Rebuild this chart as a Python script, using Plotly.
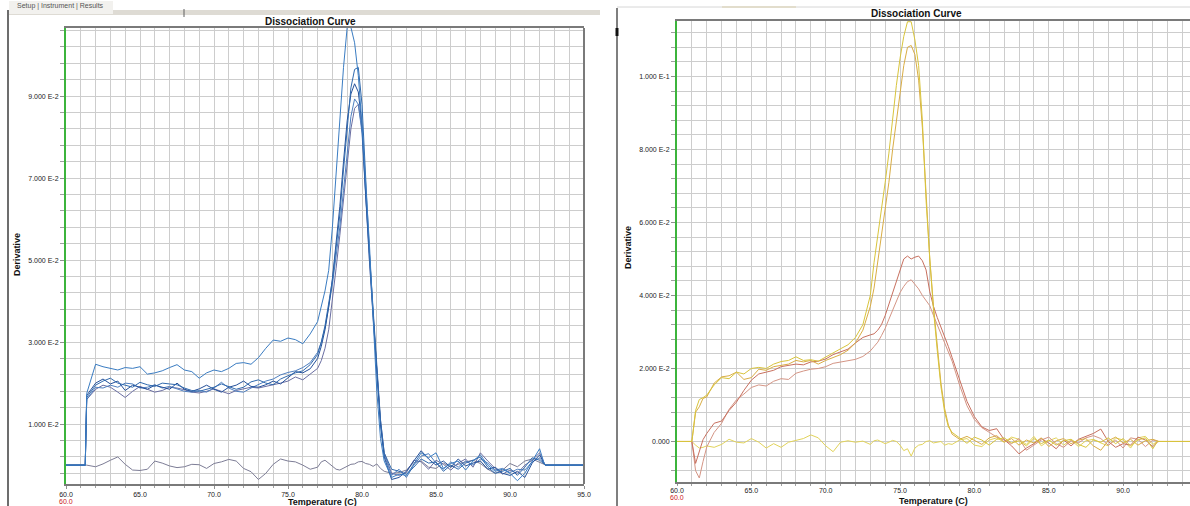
import plotly.graph_objects as go

W, H = 1190, 506

# ---------------- LEFT PANEL DATA ----------------
T_L = [60.0, 61.3, 61.4,
       62.0, 62.5, 63.0, 63.5, 64.0, 64.5, 65.0, 65.5, 66.0, 66.5, 67.0,
       67.5, 68.0, 68.5, 69.0, 69.5, 70.0, 70.5, 71.0, 71.5, 72.0, 72.5,
       73.0, 73.5, 74.0, 74.5, 75.0, 75.5, 76.0, 76.5, 77.0,
       77.25, 77.5, 77.75, 78.0, 78.25, 78.5, 78.75, 79.0, 79.25, 79.5, 79.75,
       80.0, 80.25, 80.5, 80.75, 81.0, 81.25, 81.5,
       82.0, 82.5, 83.0, 83.5, 84.0, 84.5, 85.0, 85.5, 86.0, 86.5, 87.0,
       87.5, 88.0, 88.5, 89.0, 89.5, 90.0, 90.5, 91.0, 91.5, 92.0,
       92.3, 92.4, 95.0]

blue1 = [0, 0, 0.0175,
         0.0246, 0.0240, 0.0236, 0.0232, 0.0238, 0.0236, 0.0240, 0.0222, 0.0225, 0.0230, 0.0238,
         0.0245, 0.0232, 0.0228, 0.0212, 0.0225, 0.0232, 0.0228, 0.0236, 0.0248, 0.0250, 0.0246,
         0.0262, 0.0285, 0.0305, 0.0302, 0.0310, 0.0306, 0.0296, 0.0320, 0.0350,
         0.0385, 0.0425, 0.0475, 0.0580, 0.0710, 0.0840, 0.0970, 0.1068, 0.1068, 0.1030, 0.0950,
         0.0830, 0.0690, 0.0540, 0.0360, 0.0180, 0.0065, 0.0010,
         -0.0030, -0.0022, -0.0025, 0.0002, 0.0030, 0.0018, 0.0030, -0.0008, 0.0004, 0.0010, -0.0012,
         0.0010, 0.0025, 0.0000, -0.0015, -0.0010, -0.0020, -0.0038, -0.0020, 0.0010, 0.0040,
         0.0005, 0, 0]

blue2 = [0, 0, 0.0165,
         0.0195, 0.0205, 0.0212, 0.0200, 0.0195, 0.0190, 0.0202, 0.0196, 0.0192, 0.0200, 0.0198,
         0.0196, 0.0188, 0.0182, 0.0180, 0.0185, 0.0190, 0.0198, 0.0192, 0.0185, 0.0190, 0.0203,
         0.0208, 0.0200, 0.0196, 0.0210, 0.0218, 0.0225, 0.0230, 0.0245, 0.0270,
         0.0300, 0.0340, 0.0390, 0.0450, 0.0530, 0.0610, 0.0720, 0.0830, 0.0920, 0.0965, 0.0970,
         0.0880, 0.0680, 0.0520, 0.0380, 0.0240, 0.0110, 0.0030,
         -0.0010, -0.0015, -0.0022, -0.0005, 0.0015, 0.0005, 0.0008, -0.0015, 0.0000, -0.0010, 0.0005,
         0.0012, 0.0020, -0.0005, -0.0020, -0.0015, -0.0008, -0.0025, -0.0005, 0.0018, 0.0012,
         0.0003, 0, 0]

blue3 = [0, 0, 0.0170,
         0.0200, 0.0210, 0.0198, 0.0205, 0.0182, 0.0195, 0.0190, 0.0185, 0.0195, 0.0190, 0.0185,
         0.0200, 0.0185, 0.0180, 0.0186, 0.0195, 0.0185, 0.0178, 0.0190, 0.0195, 0.0205, 0.0192,
         0.0190, 0.0196, 0.0205, 0.0198, 0.0212, 0.0228, 0.0225, 0.0235, 0.0260,
         0.0290, 0.0330, 0.0385, 0.0455, 0.0540, 0.0630, 0.0740, 0.0840, 0.0905, 0.0930, 0.0910,
         0.0830, 0.0660, 0.0510, 0.0370, 0.0230, 0.0100, 0.0020,
         -0.0035, -0.0030, -0.0015, 0.0010, 0.0035, 0.0015, 0.0000, 0.0010, -0.0005, 0.0015, -0.0002,
         0.0005, 0.0010, -0.0010, -0.0005, -0.0020, -0.0025, -0.0015, -0.0030, 0.0005, 0.0025,
         0.0005, 0, 0]

blue4 = [0, 0, 0.0160,
         0.0190, 0.0188, 0.0195, 0.0190, 0.0200, 0.0198, 0.0188, 0.0190, 0.0196, 0.0188, 0.0192,
         0.0186, 0.0180, 0.0178, 0.0182, 0.0178, 0.0188, 0.0202, 0.0188, 0.0180, 0.0178, 0.0188,
         0.0196, 0.0205, 0.0210, 0.0220, 0.0226, 0.0230, 0.0238, 0.0250, 0.0275,
         0.0300, 0.0335, 0.0385, 0.0440, 0.0510, 0.0580, 0.0670, 0.0770, 0.0850, 0.0893, 0.0880,
         0.0810, 0.0650, 0.0500, 0.0365, 0.0225, 0.0100, 0.0025,
         -0.0025, -0.0010, -0.0030, 0.0000, 0.0022, 0.0028, 0.0005, -0.0010, 0.0008, -0.0005, 0.0010,
         0.0000, 0.0015, 0.0005, -0.0012, -0.0008, -0.0018, -0.0010, -0.0012, 0.0008, 0.0018,
         0.0004, 0, 0]

blue5 = [0, 0, 0.0160,
         0.0185, 0.0195, 0.0190, 0.0178, 0.0165, 0.0180, 0.0192, 0.0185, 0.0178, 0.0182, 0.0190,
         0.0188, 0.0184, 0.0178, 0.0176, 0.0180, 0.0186, 0.0180, 0.0174, 0.0182, 0.0186, 0.0190,
         0.0188, 0.0192, 0.0195, 0.0200, 0.0205, 0.0215, 0.0208, 0.0222, 0.0236,
         0.0255, 0.0285, 0.0330, 0.0400, 0.0480, 0.0560, 0.0650, 0.0740, 0.0820, 0.0870, 0.0880,
         0.0820, 0.0650, 0.0500, 0.0360, 0.0230, 0.0110, 0.0030,
         -0.0020, -0.0025, -0.0018, 0.0012, 0.0008, -0.0010, 0.0012, 0.0002, -0.0012, 0.0005, 0.0015,
         -0.0005, 0.0030, 0.0010, -0.0008, -0.0022, -0.0012, -0.0020, 0.0000, 0.0012, 0.0030,
         0.0006, 0, 0]

gray_ntc = [0, 0, 0,
            -0.0004, 0.0003, 0.0012, 0.0020, 0.0002, -0.0012, -0.0013, -0.0010, 0.0010, 0.0005, -0.0002,
            -0.0006, -0.0004, 0.0002, 0.0001, -0.0008, 0.0004, 0.0008, 0.0014, 0.0010, -0.0008, -0.0016,
            -0.0035, -0.0020, 0.0002, 0.0015, 0.0010, 0.0008, 0.0000, -0.0010, -0.0005,
            0.0008, 0.0012, 0.0005, -0.0004, -0.0010, -0.0012, -0.0008, -0.0002, 0.0002, 0.0003, 0.0008,
            0.0009, 0.0004, 0.0002, -0.0003, 0.0003, -0.0008, -0.0015,
            -0.0020, -0.0018, -0.0012, 0.0006, 0.0010, -0.0005, -0.0008, 0.0005, -0.0005, 0.0002, 0.0008,
            0.0012, 0.0004, -0.0010, -0.0020, -0.0012, 0.0004, -0.0004, 0.0010, 0.0015, 0.0008,
            0.0002, 0, 0]

# ---------------- RIGHT PANEL DATA ----------------
T_R = [60.0, 61.0, 61.25, 61.5, 61.75, 62.0,
       62.5, 63.0, 63.5, 64.0, 64.5, 65.0, 65.5, 66.0, 66.5, 67.0, 67.5,
       68.0, 68.5, 69.0, 69.5, 70.0, 70.5, 71.0, 71.5, 72.0, 72.5, 73.0,
       73.25, 73.5, 73.75, 74.0, 74.25, 74.5, 74.75, 75.0, 75.25, 75.5, 75.75,
       76.0, 76.25, 76.5, 76.75, 77.0, 77.25, 77.5, 77.75, 78.0, 78.25, 78.5,
       79.0, 79.5, 80.0, 80.5, 81.0, 81.5, 82.0, 82.5, 83.0, 83.5, 84.0, 84.5, 85.0, 85.5,
       86.0, 86.5, 87.0, 87.5, 88.0, 88.5, 89.0, 89.5, 90.0, 90.5, 91.0, 91.5, 92.0,
       92.3, 92.4, 95.0]

yellowA = [0, 0, 0.0085, 0.0115, 0.0120, 0.0127,
           0.0155, 0.0175, 0.0172, 0.0190, 0.0185, 0.0200, 0.0203, 0.0200, 0.0212, 0.0219, 0.0222,
           0.0232, 0.0222, 0.0224, 0.0220, 0.0232, 0.0244, 0.0254, 0.0265, 0.0285, 0.0320, 0.0400,
           0.0490, 0.0560, 0.0635, 0.0710, 0.0790, 0.0890, 0.0975, 0.1050, 0.1110, 0.1150, 0.1150,
           0.1100, 0.1030, 0.0880, 0.0660, 0.0500, 0.0360, 0.0250, 0.0150, 0.0080, 0.0040, 0.0025,
           0.0010, -0.0005, 0.0012, 0.0004, -0.0010, 0.0006, 0.0010, -0.0004, 0.0002, -0.0012, 0.0008, -0.0006, 0.0004, -0.0010,
           0.0002, 0.0006, -0.0008, -0.0016, 0.0004, -0.0002, 0.0010, -0.0006, 0.0008, -0.0012, 0.0004, 0.0010, -0.0020,
           0.0000, 0, 0]

yellowB = [0, 0, 0.0080, 0.0095, 0.0118, 0.0122,
           0.0160, 0.0177, 0.0180, 0.0190, 0.0170, 0.0175, 0.0198, 0.0195, 0.0205, 0.0208, 0.0212,
           0.0222, 0.0218, 0.0222, 0.0212, 0.0222, 0.0230, 0.0238, 0.0250, 0.0270, 0.0305, 0.0370,
           0.0420, 0.0490, 0.0560, 0.0630, 0.0710, 0.0800, 0.0880, 0.0960, 0.1030, 0.1080, 0.1085,
           0.1060, 0.0990, 0.0860, 0.0670, 0.0500, 0.0370, 0.0260, 0.0160, 0.0090, 0.0045, 0.0020,
           0.0006, 0.0014, 0.0002, -0.0008, 0.0010, 0.0016, -0.0002, 0.0008, -0.0010, 0.0004, -0.0004, 0.0010, -0.0014, 0.0002,
           0.0008, -0.0006, 0.0004, 0.0008, -0.0012, -0.0024, 0.0002, 0.0012, -0.0004, 0.0006, -0.0010, 0.0002, 0.0006,
           0.0000, 0, 0]

redA = [0, 0, -0.0060, -0.0030, 0.0005, 0.0022,
        0.0050, 0.0056, 0.0085, 0.0108, 0.0140, 0.0168, 0.0185, 0.0190, 0.0195, 0.0205, 0.0208,
        0.0212, 0.0210, 0.0218, 0.0220, 0.0226, 0.0238, 0.0245, 0.0253, 0.0270, 0.0285, 0.0292,
        0.0295, 0.0305, 0.0320, 0.0345, 0.0375, 0.0405, 0.0435, 0.0465, 0.0500, 0.0508, 0.0500,
        0.0505, 0.0508, 0.0495, 0.0470, 0.0410, 0.0370, 0.0340, 0.0315, 0.0290, 0.0260, 0.0230,
        0.0168, 0.0110, 0.0068, 0.0040, 0.0030, 0.0035, 0.0005, -0.0012, -0.0034, -0.0018, -0.0006, 0.0008, -0.0004, -0.0020,
        0.0004, -0.0012, 0.0006, 0.0014, 0.0022, 0.0034, 0.0000, -0.0016, -0.0006, -0.0010, 0.0012, 0.0004, -0.0014,
        -0.0002, 0, 0]

redB = [0, 0, -0.0080, -0.0100, -0.0055, -0.0015,
        0.0025, 0.0050, 0.0088, 0.0114, 0.0130, 0.0148, 0.0155, 0.0152, 0.0165, 0.0172, 0.0170,
        0.0187, 0.0193, 0.0198, 0.0200, 0.0205, 0.0214, 0.0218, 0.0222, 0.0225, 0.0233, 0.0248,
        0.0260, 0.0272, 0.0290, 0.0310, 0.0335, 0.0360, 0.0385, 0.0408, 0.0425, 0.0438, 0.0443,
        0.0432, 0.0418, 0.0400, 0.0385, 0.0372, 0.0345, 0.0320, 0.0296, 0.0270, 0.0245, 0.0220,
        0.0155, 0.0098, 0.0060, 0.0038, 0.0025, 0.0012, 0.0004, -0.0006, 0.0008, -0.0024, -0.0010, 0.0004, 0.0012, -0.0006,
        -0.0016, 0.0002, -0.0004, 0.0010, 0.0016, 0.0008, -0.0010, 0.0004, -0.0018, 0.0010, 0.0006, -0.0014, 0.0004,
        0.0000, 0, 0]

yellow_ntc = [0, 0, -0.0010, -0.0018, -0.0016, -0.0012,
              -0.0016, -0.0008, 0.0006, -0.0002, -0.0004, 0.0008, -0.0002, -0.0018, -0.0006, -0.0016, -0.0002,
              0.0002, 0.0008, 0.0018, 0.0010, -0.0012, -0.0028, -0.0002, 0.0002, -0.0002, 0.0001, -0.0008,
              0.0002, 0.0004, 0.0000, -0.0006, -0.0002, 0.0003, 0.0000, -0.0010, -0.0025, -0.0020, -0.0040,
              -0.0018, -0.0010, -0.0008, 0.0000, 0.0002, -0.0004, -0.0002, 0.0000, -0.0010, -0.0006, -0.0008,
              0.0004, 0.0008, -0.0010, -0.0014, 0.0004, 0.0010, -0.0002, 0.0012, 0.0006, -0.0008, 0.0014, -0.0012, 0.0002, 0.0010,
              -0.0010, 0.0004, -0.0014, 0.0002, 0.0006, -0.0004, -0.0012, 0.0010, 0.0004, -0.0018, 0.0010, 0.0014, -0.0008,
              0.0000, 0, 0]

X_TICKS = [60, 65, 70, 75, 80, 85, 90, 95]
X_LABELS = ["60.0", "65.0", "70.0", "75.0", "80.0", "85.0", "90.0", "95.0"]
YL_TICKS = [0.01, 0.03, 0.05, 0.07, 0.09]
YL_LABELS = ["1.000 E-2", "3.000 E-2", "5.000 E-2", "7.000 E-2", "9.000 E-2"]
YR_TICKS = [0.0, 0.02, 0.04, 0.06, 0.08, 0.10]
YR_LABELS = ["0.000", "2.000 E-2", "4.000 E-2", "6.000 E-2", "8.000 E-2", "1.000 E-1"]

left_series = [
    (gray_ntc, "#7d7d96"),
    (blue5, "#6a6ea2"),
    (blue4, "#4f7fc0"),
    (blue3, "#24509a"),
    (blue2, "#3069ad"),
    (blue1, "#3a7cc2"),
]
right_series = [
    (yellow_ntc, "#e2d35a"),
    (redB, "#d49585"),
    (redA, "#c8705f"),
    (yellowB, "#d9ad45"),
    (yellowA, "#d8c43c"),
]

for vals, _ in left_series:
    assert len(vals) == len(T_L), len(vals)
for vals, _ in right_series:
    assert len(vals) == len(T_R), len(vals)

fig = go.Figure()
for vals, col in left_series:
    fig.add_trace(go.Scatter(x=T_L, y=vals, mode="lines", xaxis="x", yaxis="y",
                             line=dict(color=col, width=1), hoverinfo="skip"))
for vals, col in right_series:
    fig.add_trace(go.Scatter(x=T_R, y=vals, mode="lines", xaxis="x2", yaxis="y2",
                             line=dict(color=col, width=1), hoverinfo="skip"))


def px_x(p):
    return p / W


def px_y(p):
    return 1 - p / H


GRID = "#cdcdcd"
TICKFONT = dict(family="Liberation Sans, Arial, sans-serif", size=7, color="#222222")

# plot areas in px
L_X0, L_X1, L_Y0, L_Y1 = 66, 584, 28, 484
R_X0, R_Y0, R_Y1 = 677, 21, 482
R_PXPU = 14.87

common_x = dict(showgrid=True, gridcolor=GRID, gridwidth=1, zeroline=False, automargin=False,
                ticks="outside", ticklen=3, tickcolor="#909090",
                showline=True, linecolor="#7a7a7a", linewidth=2, mirror=True,
                tickfont=TICKFONT, tickmode="array", tickvals=X_TICKS, ticktext=X_LABELS,
                minor=dict(tickmode="linear", tick0=60, dtick=1, showgrid=True,
                           gridcolor=GRID, gridwidth=1, ticks="outside", ticklen=2,
                           tickcolor="#a0a0a0"))
common_y = dict(showgrid=True, gridcolor=GRID, zeroline=False, automargin=False,
                showline=True, linecolor="#3cb43c", linewidth=2, mirror=False,
                ticks="outside", ticklen=4, tickcolor="#909090", tickfont=TICKFONT,
                tickmode="array")

fig.update_layout(
    width=W, height=H, margin=dict(l=0, r=0, t=0, b=0, autoexpand=False),
    paper_bgcolor="white", plot_bgcolor="white", showlegend=False,
    xaxis=dict(common_x, domain=[px_x(L_X0), px_x(L_X1)], range=[60, 95], anchor="y"),
    yaxis=dict(common_y, domain=[px_y(L_Y1), px_y(L_Y0)], range=[-0.0046, 0.1066], anchor="x",
               tickvals=YL_TICKS, ticktext=YL_LABELS,
               minor=dict(tickmode="linear", tick0=0.002, dtick=0.004, showgrid=True,
                          gridcolor=GRID, ticks="outside", ticklen=4, tickcolor="#a0a0a0")),
    xaxis2=dict(common_x, domain=[px_x(R_X0), 1.0], ticklen=1,
                range=[60, 60 + (W - R_X0) / R_PXPU], anchor="y2"),
    yaxis2=dict(common_y, domain=[px_y(R_Y1), px_y(R_Y0)], range=[-0.0111, 0.1152], anchor="x2",
                tickvals=YR_TICKS, ticktext=YR_LABELS,
                minor=dict(tickmode="linear", tick0=0.0, dtick=0.004, showgrid=True,
                           gridcolor=GRID, ticks="outside", ticklen=4, tickcolor="#a0a0a0")),
)

TITLE_FONT = dict(family="Liberation Sans Narrow, Arial Narrow, Liberation Sans, Arial", size=10,
                  color="#111111")
ann = [
    dict(text="<b>Dissociation Curve</b>", x=px_x(310), y=px_y(22), font=TITLE_FONT),
    dict(text="<b>Dissociation Curve</b>", x=px_x(916), y=px_y(14), font=TITLE_FONT),
    dict(text="<b>Derivative</b>", x=px_x(17), y=px_y(255), textangle=-90,
         font=dict(TITLE_FONT, size=9)),
    dict(text="<b>Derivative</b>", x=px_x(628), y=px_y(248), textangle=-90,
         font=dict(TITLE_FONT, size=9)),
    dict(text="<b>Temperature (C)</b>", x=px_x(322), y=px_y(502), font=dict(TITLE_FONT, size=9)),
    dict(text="<b>Temperature (C)</b>", x=px_x(933), y=px_y(501), font=dict(TITLE_FONT, size=9)),
    dict(text="Setup | Instrument | Results", x=px_x(60), y=px_y(6),
         font=dict(family="Liberation Sans, Arial", size=7, color="#555555")),
]
for a in ann:
    a.update(xref="paper", yref="paper", showarrow=False, xanchor="center", yanchor="middle")
fig.update_layout(annotations=ann)
fig.add_annotation(text="60.0", x=60, xref="x", y=px_y(501.5), yref="paper", showarrow=False,
                   font=dict(family="Liberation Sans, Arial", size=7, color="#cc2020"),
                   xanchor="center", yanchor="middle")
fig.add_annotation(text="60.0", x=60, xref="x2", y=px_y(497), yref="paper", showarrow=False,
                   font=dict(family="Liberation Sans, Arial", size=7, color="#cc2020"),
                   xanchor="center", yanchor="middle")

shapes = [
    # tab strip at top of left window
    dict(type="rect", x0=px_x(9), x1=px_x(600), y0=px_y(15), y1=px_y(10),
         fillcolor="#dedbd4", line=dict(width=0), layer="below"),
    dict(type="rect", x0=px_x(9), x1=px_x(113), y0=px_y(14), y1=px_y(1),
         fillcolor="#f2f1ee", line=dict(width=0), layer="below"),
    dict(type="line", x0=px_x(184), x1=px_x(184), y0=px_y(17), y1=px_y(9),
         line=dict(color="#606060", width=1)),
    # window borders
    dict(type="line", x0=px_x(8), x1=px_x(8), y0=px_y(10), y1=px_y(506),
         line=dict(color="#3c3c3c", width=1.5)),
    dict(type="line", x0=px_x(617), x1=px_x(617), y0=px_y(8), y1=px_y(506),
         line=dict(color="#555555", width=1.5)),
    dict(type="rect", x0=px_x(615.5), x1=px_x(618.5), y0=px_y(36), y1=px_y(28),
         fillcolor="#111111", line=dict(width=0)),
    dict(type="line", x0=px_x(617), x1=1, y0=px_y(7), y1=px_y(7),
         line=dict(color="#d6d6d6", width=1)),
    dict(type="line", x0=px_x(722), x1=px_x(796), y0=px_y(7), y1=px_y(7),
         line=dict(color="#e2ddcc", width=2)),
    # right border of left plot
    dict(type="line", xref="x domain", yref="y domain", x0=1, x1=1, y0=0, y1=1,
         line=dict(color="#7a7a7a", width=2)),
]
for s in shapes:
    s.setdefault("xref", "paper")
    s.setdefault("yref", "paper")
fig.update_layout(shapes=shapes)

fig.write_html("out.html", config={"displayModeBar": False, "staticPlot": True},
               post_script="document.body.style.margin='0px';document.body.style.padding='0px';"
                           "document.body.style.overflow='hidden';")
